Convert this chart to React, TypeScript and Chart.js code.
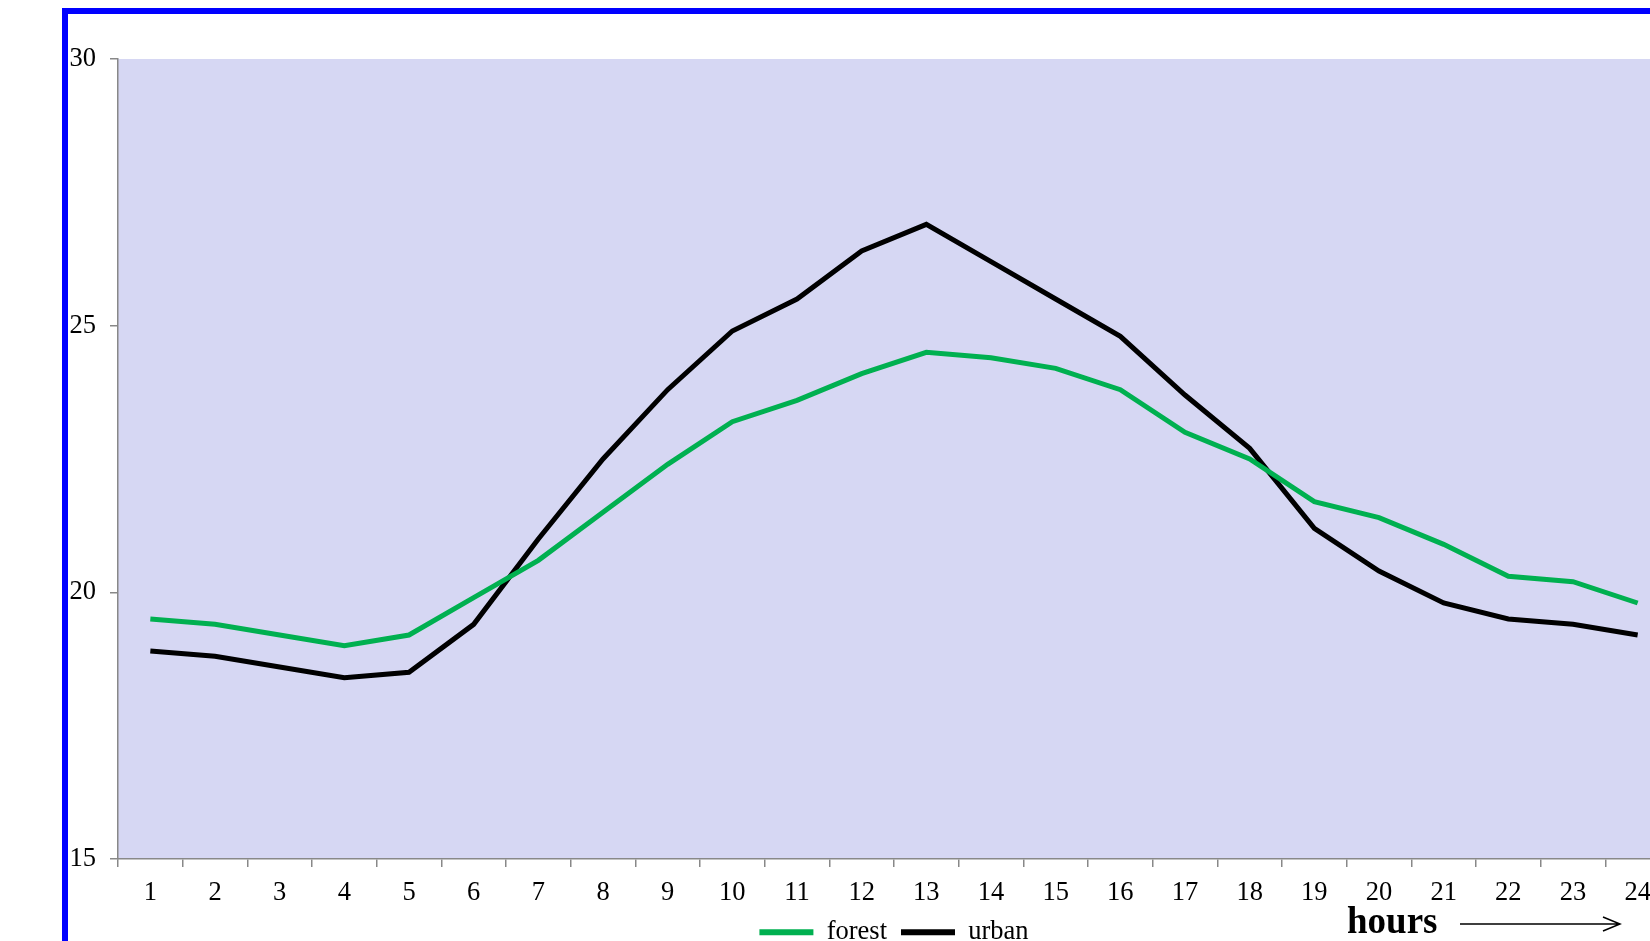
import React, { useEffect, useRef } from "react";
import { Chart, registerables } from "chart.js";

Chart.register(...registerables);

const hours = ["1", "2", "3", "4", "5", "6", "7", "8", "9", "10", "11", "12", "13", "14", "15", "16", "17", "18", "19", "20", "21", "22", "23", "24"];
const forest = [19.5, 19.4, 19.2, 19.0, 19.2, 19.9, 20.6, 21.5, 22.4, 23.2, 23.6, 24.1, 24.5, 24.4, 24.2, 23.8, 23.0, 22.5, 21.7, 21.4, 20.9, 20.3, 20.2, 19.8];
const urban = [18.9, 18.8, 18.6, 18.4, 18.5, 19.4, 21.0, 22.5, 23.8, 24.9, 25.5, 26.4, 26.9, 26.2, 25.5, 24.8, 23.7, 22.7, 21.2, 20.4, 19.8, 19.5, 19.4, 19.2];
const yMin = 15;
const yMax = 30;
const yStep = 5;
const axisTitle = "hours";

const FONT = '"Liberation Serif", "Times New Roman", serif';
const FS = 26.5;

const bgPlugin = {
  id: "plotBg",
  beforeDraw(chart: any) {
    const { ctx, chartArea } = chart;
    ctx.save();
    ctx.fillStyle = "#D6D7F3";
    ctx.fillRect(chartArea.left, chartArea.top, chartArea.right - chartArea.left, chartArea.bottom - chartArea.top);
    ctx.restore();
  },
};

const hoursPlugin = {
  id: "hoursLabel",
  afterDraw(chart: any) {
    const { ctx, chartArea } = chart;
    const x0 = chartArea.left + 1229;
    const base = chartArea.bottom + 74;
    ctx.save();
    ctx.fillStyle = "#000";
    ctx.font = `bold 37px ${FONT}`;
    ctx.textBaseline = "alphabetic";
    ctx.textAlign = "left";
    ctx.fillText(axisTitle, x0, base);
    const ay = chartArea.bottom + 65;
    const ax1 = chartArea.left + 1342;
    const ax2 = chartArea.left + 1502;
    ctx.strokeStyle = "#000";
    ctx.lineWidth = 1.5;
    ctx.beginPath();
    ctx.moveTo(ax1, ay);
    ctx.lineTo(ax2, ay);
    ctx.moveTo(ax2 - 17, ay - 7);
    ctx.lineTo(ax2, ay);
    ctx.lineTo(ax2 - 17, ay + 7);
    ctx.stroke();
    ctx.restore();
  },
};

export default function App() {
  const ref = useRef<HTMLCanvasElement | null>(null);

  useEffect(() => {
    if (!ref.current) return;
    const chart = new Chart(ref.current, {
      type: "line",
      data: {
        labels: hours,
        datasets: [
          {
            label: "forest",
            data: forest,
            borderColor: "#00B050",
            backgroundColor: "#00B050",
            borderWidth: 5,
            pointRadius: 0,
            tension: 0,
            fill: false,
          },
          {
            label: "urban",
            data: urban,
            borderColor: "#000000",
            backgroundColor: "#000000",
            borderWidth: 5,
            pointRadius: 0,
            tension: 0,
            fill: false,
          },
        ],
      },
      options: {
        responsive: false,
        maintainAspectRatio: false,
        animation: false,
        layout: { padding: { top: 45, left: 0, right: 38, bottom: 0.5 } },
        font: { family: FONT },
        plugins: {
          tooltip: { enabled: false },
          legend: {
            position: "bottom",
            fullSize: false,
            labels: {
              boxWidth: 54,
              boxHeight: 6,
              padding: 14,
              color: "#000",
              font: { family: FONT, size: FS },
              generateLabels: (c: any) =>
                Chart.defaults.plugins.legend.labels.generateLabels(c).map((l: any) => ({
                  ...l,
                  lineWidth: 0,
                })),
            },
          },
        },
        scales: {
          x: {
            type: "category",
            offset: true,
            grid: {
              offset: true,
              drawOnChartArea: false,
              drawTicks: true,
              tickLength: 8,
              color: "#888888",
              lineWidth: 1.5,
            },
            border: { display: true, color: "#888888", width: 1.5 },
            ticks: {
              color: "#000",
              padding: 10,
              maxRotation: 0,
              autoSkip: false,
              font: { family: FONT, size: FS },
            },
            afterFit: (s: any) => {
              s.height = 46;
            },
          },
          y: {
            min: yMin,
            max: yMax,
            grid: {
              drawOnChartArea: false,
              drawTicks: true,
              tickLength: 8,
              color: "#888888",
              lineWidth: 1.5,
            },
            border: { display: true, color: "#888888", width: 1.5 },
            ticks: {
              stepSize: yStep,
              color: "#000",
              padding: 14,
              font: { family: FONT, size: FS },
            },
            afterFit: (s: any) => {
              s.width = 50;
            },
          },
        },
      },
      plugins: [bgPlugin, hoursPlugin],
    });
    return () => chart.destroy();
  }, []);

  return (
    <div
      style={{
        position: "fixed",
        left: 62,
        top: 8,
        width: 1700,
        height: 1000,
        border: "6px solid #0000FF",
        background: "#ffffff",
        overflow: "hidden",
      }}
    >
      <canvas ref={ref} width={1640} height={942} style={{ width: 1640, height: 942, display: "block" }} />
    </div>
  );
}
